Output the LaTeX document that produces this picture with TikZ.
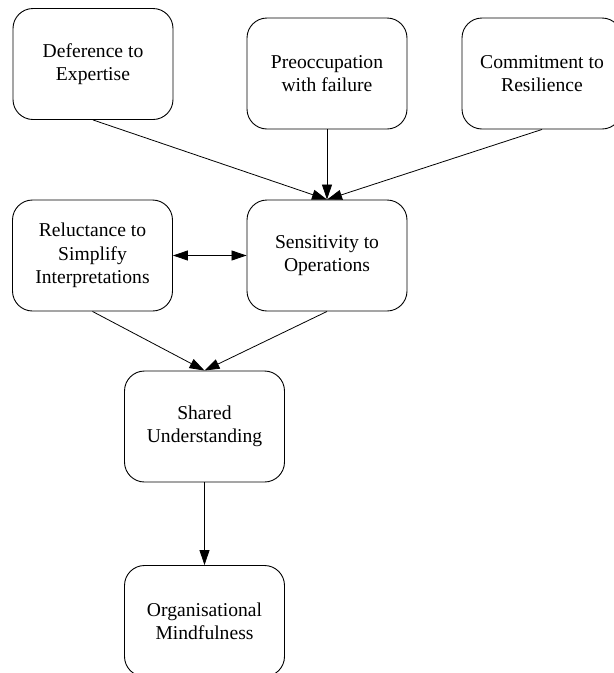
\documentclass[tikz,border=0pt]{standalone}
\usepackage{fontspec}
\setmainfont{Liberation Serif}
\usetikzlibrary{arrows.meta}
\begin{document}
\begin{tikzpicture}[x=1pt,y=-1pt,
  box/.style={draw=black, line width=0.9pt, rounded corners=20pt,
    minimum width=160pt, minimum height=111pt, inner sep=0pt,
    align=center, font=\fontsize{19.6pt}{23.4pt}\selectfont},
  conn/.style={draw=black, line width=0.8pt, -{Triangle[length=15pt,width=10pt]}},
  both/.style={draw=black, line width=0.8pt, {Triangle[length=15pt,width=10pt]}-{Triangle[length=15pt,width=10pt]}}]
\useasboundingbox (0,0) rectangle (614,673);
\clip (0,0) rectangle (614,673);
\node[box] (def) at (93,64) {Deference to\\Expertise};
\node[box] (pre) at (327,73.5) {Preoccupation\\with failure};
\node[box] (com) at (542,73.5) {Commitment to\\Resilience};
\node[box] (rel) at (92.5,255.5) {Reluctance to\\Simplify\\Interpretations};
\node[box] (sen) at (327,255.5) {Sensitivity to\\Operations};
\node[box] (sha) at (204.5,426.5) {Shared\\Understanding};
\node[box] (org) at (204.5,621) {Organisational\\Mindfulness};
\draw[conn] (def.south) -- (sen.north);
\draw[conn] (pre.south) -- (sen.north);
\draw[conn] (com.south) -- (sen.north);
\draw[both] (rel.east) -- (sen.west);
\draw[conn] (rel.south) -- (sha.north);
\draw[conn] (sen.south) -- (sha.north);
\draw[conn] (sha.south) -- (org.north);
\end{tikzpicture}
\end{document}
